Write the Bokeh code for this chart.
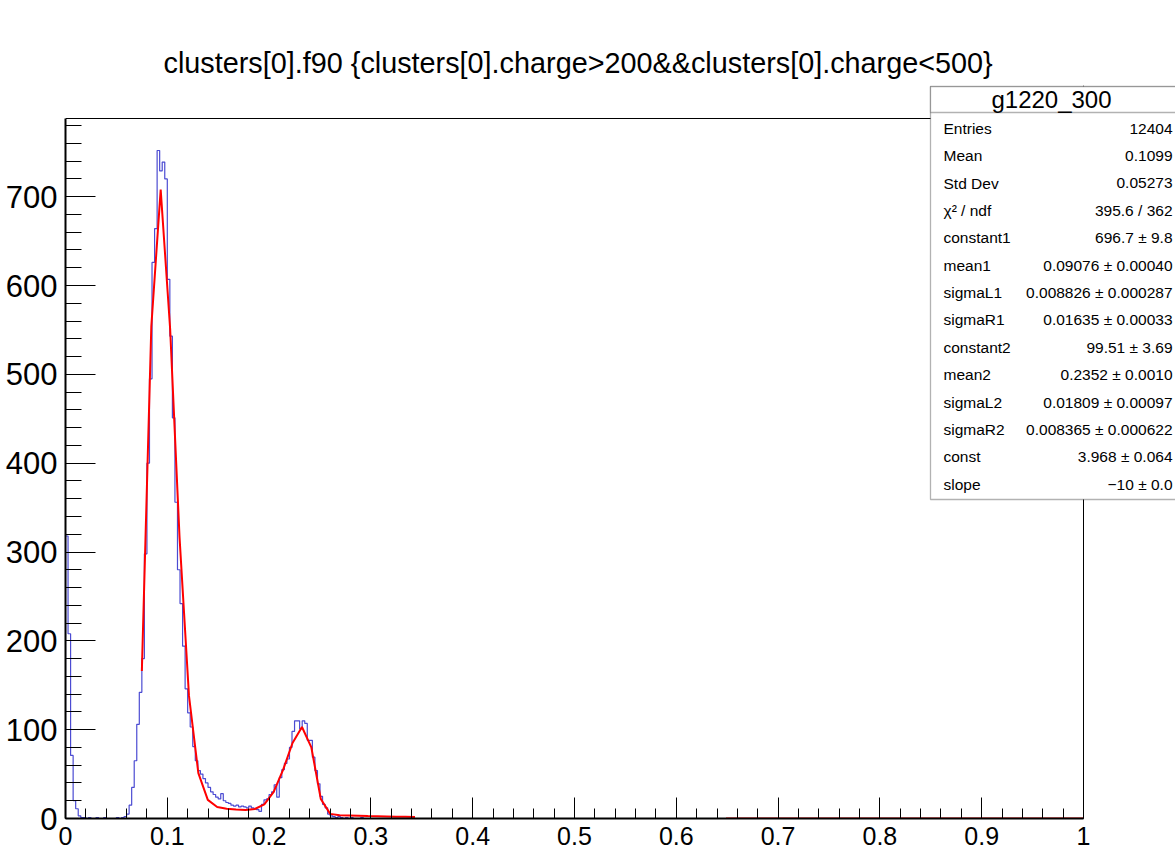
import numpy as np
from bokeh.plotting import figure
from bokeh.models import Range1d, SingleIntervalTicker, CustomJSTickFormatter, Label, BoxAnnotation, Span
from bokeh.embed import file_html
from bokeh.resources import INLINE

# ---------------- data ----------------
title_text = "clusters[0].f90 {clusters[0].charge>200&&clusters[0].charge<500}"

bin_width = 0.0025
n_bins = 400
# bin contents, bins of width 0.0025 starting at 0
counts_head = [
    318, 208, 71, 20, 11, 3, 1, 1, 0, 1,
    0, 0, 1, 0, 0, 1, 0, 0, 0, 0,
    1, 0, 1, 2, 5, 15, 35, 65, 106, 142,
    180, 298, 400, 495, 626, 664, 752, 729, 739, 720,
    607, 543, 451, 356, 280, 242, 194, 146, 119, 103,
    81, 65, 54, 50, 45, 40, 35, 30, 27, 24,
    22, 28, 20, 18, 17, 15, 14, 15, 13, 14,
    13, 12, 14, 12, 11, 10, 8, 16, 21, 22,
    27, 30, 38, 24, 46, 55, 62, 67, 80, 98,
    110, 110, 101, 110, 107, 88, 88, 69, 54, 39,
    25, 16, 12, 5, 3, 2, 1, 2, 1, 0,
    1, 0, 1, 0, 0, 0, 1, 0, 0, 0,
    0, 0, 0, 0, 0, 0, 0, 0, 0, 0,
    0, 0, 0, 0, 0, 0, 0, 0, 0, 0,
]
counts_tail = [0] * (n_bins - len(counts_head))
counts = counts_head + counts_tail

# fitted curve (red), vertices
fit_x_low = [0.075, 0.0843, 0.0935, 0.1028, 0.112, 0.1213, 0.1305, 0.1398, 0.149, 0.1583,
             0.1675, 0.1768, 0.186, 0.1953, 0.2045, 0.2138, 0.223, 0.2323, 0.2415, 0.2508,
             0.26, 0.2693, 0.2785, 0.2878, 0.297, 0.3063, 0.3155, 0.3248, 0.334, 0.3433]
fit_y_low = [166, 554, 708, 551, 317, 138, 51, 21, 13, 11,
             10, 9.6, 10.7, 16, 30, 55, 85, 103, 80, 22,
             5.2, 3.6, 3.3, 3.0, 2.7, 2.5, 2.3, 2.0, 1.9, 1.7]
fit_x_high = [0.6488, 1.0]
fit_y_high = [0.08, 0.0025]

stats_title = "g1220_300"
stat_names = ["Entries", "Mean", "Std Dev", "\u03c7\u00b2 / ndf", "constant1", "mean1", "sigmaL1",
              "sigmaR1", "constant2", "mean2", "sigmaL2", "sigmaR2", "const", "slope"]
stat_values = ["12404", "0.1099", "0.05273", "395.6 / 362", "696.7 \u00b1 9.8",
               "0.09076 \u00b1 0.00040", "0.008826 \u00b1 0.000287", "0.01635 \u00b1 0.00033",
               "99.51 \u00b1 3.69", "0.2352 \u00b1 0.0010", "0.01809 \u00b1 0.00097",
               "0.008365 \u00b1 0.000622", "3.968 \u00b1 0.064", "\u221210 \u00b1 0.0"]

# axis extents of the histogram frame
x_lo, x_hi = 0.0, 1.0
y_lo, y_hi = 0.0, 788.0

FONT = "Liberation Sans"

# ---------------- geometry (pixels) ----------------
W, H = 1175, 861
frame_left, frame_bottom = 65, 818          # where x=0 / y=0 sit
axis_right, axis_top = 1083, 118             # where x=1 / y=788 sit
canvas_top = 85                              # plotting area extends up to here (stats box)
px_x = (axis_right - frame_left) / (x_hi - x_lo)
px_y = (frame_bottom - axis_top) / (y_hi - y_lo)
x_view_end = x_lo + (W - frame_left) / px_x
y_view_end = y_lo + (frame_bottom - canvas_top) / px_y

def xd(px):
    return x_lo + (px - frame_left) / px_x

def yd(px):
    return y_lo + (frame_bottom - px) / px_y

# ---------------- figure ----------------
p = figure(width=W, height=H, output_backend="svg", toolbar_location=None,
           x_range=Range1d(x_lo, x_view_end), y_range=Range1d(y_lo, y_view_end),
           min_border_left=frame_left, min_border_right=0, min_border_top=canvas_top,
           min_border_bottom=H - frame_bottom)
p.background_fill_color = "white"
p.border_fill_color = "white"
p.outline_line_color = None
p.grid.visible = False

p.title.text = title_text
p.title.align = "left"
p.title.offset = 98
p.title.text_font = FONT
p.title.text_font_style = "normal"
p.title.text_font_size = "28.8px"
p.title.text_color = "black"
p.title.standoff = 13

# axes
p.xaxis.ticker = SingleIntervalTicker(interval=0.1, num_minor_ticks=5)
p.yaxis.ticker = SingleIntervalTicker(interval=100, num_minor_ticks=5)
p.xaxis.bounds = (x_lo, x_hi)
p.yaxis.bounds = (y_lo, y_hi)
p.xaxis.formatter = CustomJSTickFormatter(code="return String(Math.round(tick*10)/10);")
for ax in (p.xaxis, p.yaxis):
    ax.axis_line_color = "black"
    ax.axis_line_width = 2
    ax.major_tick_line_color = "black"
    ax.minor_tick_line_color = "black"
    ax.major_tick_out = 0
    ax.minor_tick_out = 0
    ax.major_label_text_font = FONT
    ax.major_label_text_color = "black"
    ax.major_label_standoff = 8
p.xaxis.major_tick_in = 21
p.xaxis.minor_tick_in = 10
p.yaxis.major_tick_in = 30
p.yaxis.minor_tick_in = 16
p.xaxis.major_label_text_font_size = "25px"
p.yaxis.major_label_text_font_size = "31px"

# ROOT frame: top and right edges
p.add_layout(Span(location=y_hi, dimension="width", line_color="black", line_width=1))
p.add_layout(Span(location=x_hi, dimension="height", line_color="black", line_width=1))

# histogram outline
edges = np.linspace(x_lo, x_hi, n_bins + 1)
c = np.asarray(counts, dtype=float)
hx = np.concatenate([[edges[0]], np.repeat(edges, 2)[1:-1], [edges[-1]]])
hy = np.concatenate([[0.0], np.repeat(c, 2), [0.0]])
p.line(hx, hy, line_color="#4b4bd2", line_width=1.2)

# fit curve
fx = fit_x_low + [float("nan")] + fit_x_high
fy = fit_y_low + [float("nan")] + fit_y_high
p.line(fx, fy, line_color="#ff0000", line_width=2)

# ---------------- stats box ----------------
box_l, box_r = xd(930), xd(1178)
box_t, box_b = yd(86), yd(499)
head_b = yd(112)
p.add_layout(BoxAnnotation(left=box_l, right=box_r, top=box_t, bottom=box_b,
                           fill_color="white", fill_alpha=1.0, line_color="black", line_width=1.3))
p.add_layout(BoxAnnotation(left=box_l, right=box_r, top=box_t, bottom=head_b,
                           fill_color="white", fill_alpha=1.0, line_color="black", line_width=1.3))
p.add_layout(Label(x=xd(1051), y=(box_t + head_b) / 2, text=stats_title, text_align="center",
                   text_baseline="middle", text_font=FONT, text_font_size="24px", text_color="black"))

row0_px = 128.0
row_step_px = 27.35
for i, (nm, val) in enumerate(zip(stat_names, stat_values)):
    ypos = yd(row0_px + i * row_step_px)
    p.add_layout(Label(x=xd(943), y=ypos, text=nm, text_align="left", text_baseline="middle",
                       text_font=FONT, text_font_size="15.5px", text_color="black"))
    p.add_layout(Label(x=xd(1172), y=ypos, text=val, text_align="right", text_baseline="middle",
                       text_font=FONT, text_font_size="15.5px", text_color="black"))

open("out.html", "w").write(file_html(p, INLINE))
